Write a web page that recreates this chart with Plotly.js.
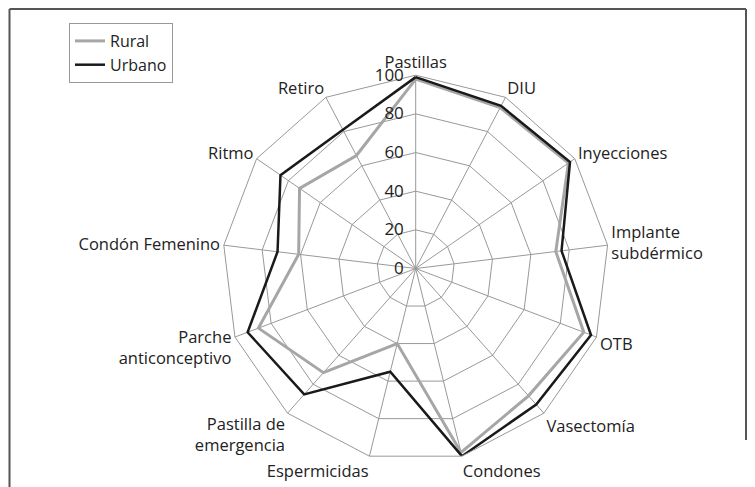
<!DOCTYPE html>
<html>
<head>
<meta charset="utf-8">
<script src="https://cdn.plot.ly/plotly-3.0.1.min.js"></script>
<style>
html,body{margin:0;padding:0;background:#fff;}
#chart{width:755px;height:487px;}
</style>
</head>
<body>
<div id="chart"></div>
<script>
const categories = ["Pastillas","DIU","Inyecciones","Implante<br>subdérmico","OTB","Vasectomía","Condones","Espermicidas","Pastilla de<br>emergencia","Parche<br>anticonceptivo","Condón Femenino","Ritmo","Retiro"];
const rural  = [98, 94, 96, 73, 93, 88, 98, 40, 72, 87, 61, 73, 66];
const urbano = [99, 95, 97, 76, 97, 94, 100, 55, 87, 93, 72, 85, 81];
const radialTicks = [0, 20, 40, 60, 80, 100];

function closed(a){ return a.concat([a[0]]); }
// small right padding so the labels sit just left of the vertical axis
function padLabel(v){ return String(v) + "\u00a0\u00a0"; }

const FONT = "Open Sans, sans-serif";

const data = [
  {type:"scatterpolar", mode:"lines", name:"Rural", r:closed(rural), theta:closed(categories),
   line:{color:"#a6a6a6", width:3}},
  {type:"scatterpolar", mode:"lines", name:"Urbano", r:closed(urbano), theta:closed(categories),
   line:{color:"#1a1a1a", width:2.5}}
];

const W = 755, H = 487, cx = 415.7, cy = 268.5, R = 193.3;

const layout = {
  width:W, height:H,
  margin:{l:0,r:0,t:0,b:0},
  paper_bgcolor:"#fff",
  font:{family:FONT, size:16, color:"#222"},
  showlegend:true,
  legend:{x:69/W, y:1-23/H, xanchor:"left", yanchor:"top",
    bordercolor:"#999", borderwidth:1, bgcolor:"#fff",
    font:{family:FONT, size:16, color:"#222"}, itemwidth:30},
  polar:{
    domain:{x:[(cx-R)/W,(cx+R)/W], y:[1-(cy+R)/H, 1-(cy-R)/H]},
    gridshape:"linear",
    bgcolor:"#fff",
    angularaxis:{type:"category", categoryarray:categories, direction:"clockwise", rotation:90,
      showline:true, linecolor:"#999", linewidth:1, gridcolor:"#999", gridwidth:1,
      ticks:"", tickfont:{family:FONT, size:16.5, color:"#222"}},
    radialaxis:{range:[0,100], tickvals:radialTicks, ticktext:radialTicks.map(padLabel),
      angle:90, tickangle:90, side:"counterclockwise", showline:false, ticks:"", gridcolor:"#999", gridwidth:1,
      tickfont:{family:FONT, size:17, color:"#222"}}
  },
  shapes:[
    {type:"line", xref:"paper", yref:"paper", x0:9.5/W, x1:9.5/W, y0:0, y1:1-9/H, line:{color:"#555", width:2}},
    {type:"line", xref:"paper", yref:"paper", x0:9.5/W, x1:746/W, y0:1-9/H, y1:1-9/H, line:{color:"#555", width:2}},
    {type:"line", xref:"paper", yref:"paper", x0:746/W, x1:746/W, y0:1-9/H, y1:1-440/H, line:{color:"#555", width:2}}
  ]
};

Plotly.newPlot("chart", data, layout, {displayModeBar:false, staticPlot:true});
</script>
</body>
</html>
